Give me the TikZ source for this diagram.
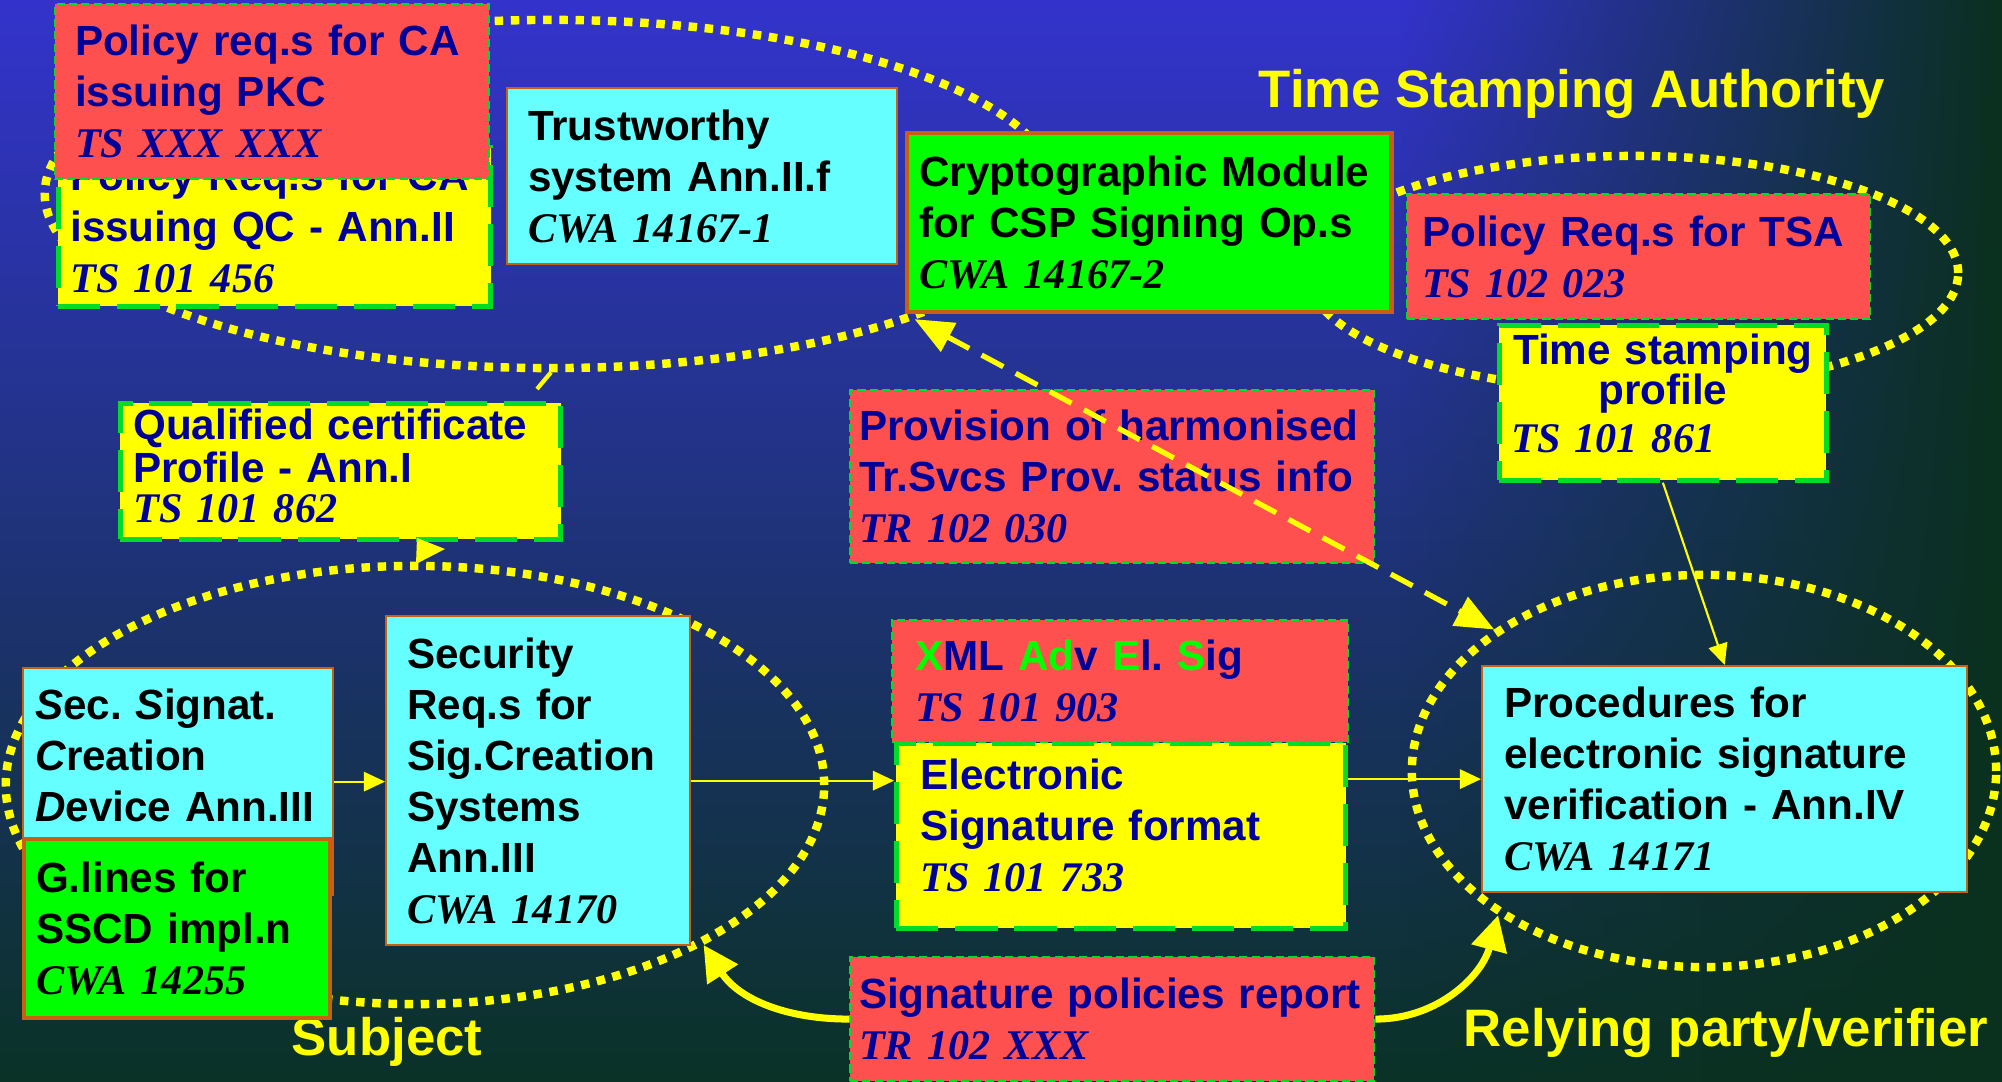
\documentclass[tikz,border=0pt]{standalone}
\usepackage{fontspec}
\setmainfont{Liberation Sans}
\newfontfamily\reffont{Liberation Serif}
\usetikzlibrary{arrows.meta,shapes.geometric,fadings}
\frenchspacing

\definecolor{bgblue}{RGB}{51,51,204}
\definecolor{bgmid}{RGB}{36,52,140}
\definecolor{bgdark}{RGB}{10,50,38}
\definecolor{bgright}{RGB}{10,48,30}
\definecolor{boxred}{RGB}{255,80,80}
\definecolor{boxyellow}{RGB}{255,255,0}
\definecolor{boxcyan}{RGB}{102,255,255}
\definecolor{boxgreen}{RGB}{0,255,0}
\definecolor{edgegreen}{RGB}{0,220,40}
\definecolor{edgebrown}{RGB}{200,96,20}
\definecolor{navy}{RGB}{0,0,153}
\definecolor{hilite}{RGB}{0,255,0}
\definecolor{ylw}{RGB}{255,255,0}

\newcommand\docref[1]{{\reffont\bfseries\itshape #1}}
\newcommand\hl[1]{\textcolor{hilite}{#1}}

\tikzset{
	docbox/.style={anchor=north west, align=left, inner ysep=0pt, font=\fontsize{12}{14.5}\selectfont\bfseries},
	redbox/.style={docbox, fill=boxred, draw=edgegreen, line width=0.6pt, dash pattern=on 2.3pt off 1.2pt, text=navy},
	yellowbox/.style={docbox, fill=boxyellow, draw=edgegreen, line width=1.3pt, dash pattern=on 12pt off 4.8pt, text=navy},
	cyanbox/.style={docbox, fill=boxcyan, draw=edgebrown, line width=0.6pt, text=black},
	greenbox/.style={docbox, fill=boxgreen, draw=edgebrown, line width=1.2pt, text=black},
	dotell/.style={ellipse, draw=ylw, line width=2.4pt, dash pattern=on 2.4pt off 2.2pt, inner sep=0pt},
	arealabel/.style={text=ylw, inner sep=0pt, font=\fontsize{15}{18}\selectfont\bfseries},
	thinarrow/.style={draw=ylw, line width=0.6pt, -{Triangle[length=6pt,width=5.5pt]}},
	thickarrow/.style={draw=ylw, line width=2pt, -{Triangle[length=10pt,width=10pt]}},
	dasharrow/.style={draw=ylw, line width=1.5pt, dash pattern=on 7pt off 4pt, {Triangle[length=11pt,width=9pt]}-{Triangle[length=11pt,width=9pt]}}
}

\begin{document}
\begin{tikzpicture}[x=0.01cm, y=-0.01cm]
	%%%%% BACKGROUND %%%%%
	\useasboundingbox (0,0) rectangle (2002,1082);
	\fill[top color=bgblue, middle color=bgmid, bottom color=bgdark] (0,0) rectangle (2002,1082);
	\fill[bgright, path fading=west] (1400,0) rectangle (2002,1082);

	%%%%% DOMAINS %%%%%
	\node[dotell, minimum width=10.12cm, minimum height=3.48cm] (caell) at (551,194) {};
	\node[dotell, minimum width=6.50cm, minimum height=2.34cm] (tsaell) at (1633,273) {};
	\node[dotell, minimum width=8.18cm, minimum height=4.38cm] (subjell) at (415,785) {};
	\node[dotell, minimum width=5.84cm, minimum height=3.92cm] (rpell) at (1704,771) {};

	\node[arealabel] (tsalabel) at (1572,94) {Time Stamping Authority};
	\node[arealabel] (subjlabel) at (387,1042) {Subject};
	\node[arealabel] (rplabel) at (1726,1033) {Relying party/verifier};

	%%%%% DOCUMENTS %%%%%
	\node[yellowbox, minimum width=4.32cm, minimum height=1.59cm, text width=4.08cm, inner xsep=0.12cm] (qcreq) at (56,145) {Policy Req.s for CA\\issuing QC - Ann.II\\\docref{TS 101 456}};
	\node[redbox, minimum width=4.34cm, minimum height=1.75cm, text width=3.94cm, inner xsep=0.2cm] (pkcreq) at (54,3) {Policy req.s for CA\\issuing PKC\\\docref{TS XXX XXX}};
	\node[cyanbox, minimum width=3.90cm, minimum height=1.76cm, text width=3.48cm, inner xsep=0.21cm] (trust) at (506,87) {Trustworthy\\system Ann.II.f\\\docref{CWA 14167-1}};
	\node[greenbox, minimum width=4.84cm, minimum height=1.79cm, text width=4.60cm, inner xsep=0.12cm] (crypto) at (905,131) {Cryptographic Module\\for CSP Signing Op.s\\\docref{CWA 14167-2}};
	\node[redbox, minimum width=4.63cm, minimum height=1.25cm, text width=4.33cm, inner xsep=0.15cm] (tsareq) at (1406,193) {Policy Req.s for TSA\\\docref{TS 102 023}};
	\node[yellowbox, align=center, minimum width=3.27cm, minimum height=1.55cm, text width=3.03cm, inner xsep=0.12cm, text depth=30.5pt] (tsprof) at (1497,323) {Time stamping\\[-3pt]profile\\[-1pt]\makebox[3.03cm][l]{\docref{TS 101 861}}};
	\node[yellowbox, minimum width=4.40cm, minimum height=1.36cm, text width=4.14cm, inner xsep=0.13cm, text depth=27pt] (qcprof) at (118,401) {Qualified certificate\\[-2.3pt]Profile - Ann.I\\[-3pt]\docref{TS 101 862}};
	\node[redbox, minimum width=5.24cm, minimum height=1.73cm, text width=5.06cm, inner xsep=0.09cm] (provision) at (849,389) {Provision of harmonised\\Tr.Svcs Prov. status info\\\docref{TR 102 030}};

	\node[yellowbox, minimum width=4.49cm, minimum height=1.85cm, text width=4.01cm, inner xsep=0.24cm, text depth=35pt] (esigfmt) at (894,741) {Electronic\\Signature format\\\docref{TS 101 733}};
	\node[redbox, minimum width=4.56cm, minimum height=1.22cm, text width=4.10cm, inner xsep=0.23cm] (xmlsig) at (891,619) {\hl{X}ML \hl{Ad}v \hl{E}l. \hl{S}ig\\\docref{TS 101 903}};
	\node[cyanbox, minimum width=4.85cm, minimum height=2.26cm, text width=4.41cm, inner xsep=0.22cm] (verify) at (1481,665) {Procedures for\\electronic signature\\verification - Ann.IV\\\docref{CWA 14171}};

	\node[cyanbox, minimum width=3.10cm, minimum height=2.27cm, text width=2.86cm, inner xsep=0.12cm, text depth=44pt] (sscd) at (22,667) {\textit{S}ec. \textit{S}ignat.\\\textit{C}reation\\\textit{D}evice Ann.III};
	\node[greenbox, minimum width=3.06cm, minimum height=1.79cm, text width=2.82cm, inner xsep=0.12cm] (glines) at (22,837) {G.lines for\\SSCD impl.n\\\docref{CWA 14255}};
	\node[cyanbox, minimum width=3.04cm, minimum height=3.29cm, text width=2.62cm, inner xsep=0.21cm] (secreq) at (385,615) {Security\\Req.s for\\Sig.Creation\\Systems\\Ann.III\\\docref{CWA 14170}};
	\node[redbox, minimum width=5.24cm, minimum height=1.24cm, text width=5.06cm, inner xsep=0.09cm] (sigpol) at (849,956) {Signature policies report\\\docref{TR 102 XXX}};

	%%%%% LINKS %%%%%
	\draw[thinarrow] (sscd.east) -- (sscd.east -| secreq.west);
	\draw[thinarrow] (secreq.east) -- (secreq.east -| esigfmt.west);
	\draw[thinarrow] (verify.west -| esigfmt.east) -- (verify.west);
	\draw[thinarrow] (tsprof.south) -- (verify.north);
	\draw[dasharrow] (caell.-19) -- (rpell.146);
	\draw[thickarrow] (sigpol.west) to[out=180, in=-57] (subjell.-29);
	\draw[thickarrow] (sigpol.east) to[out=0, in=-105] (rpell.215);

	\coordinate (qctick) at (537,389);
	\draw[ylw, line width=1.2pt] (caell.south) -- (qctick);
	\fill[ylw] (417,538) -- (445,549) -- (416,564) -- cycle;
\end{tikzpicture}
\end{document}
